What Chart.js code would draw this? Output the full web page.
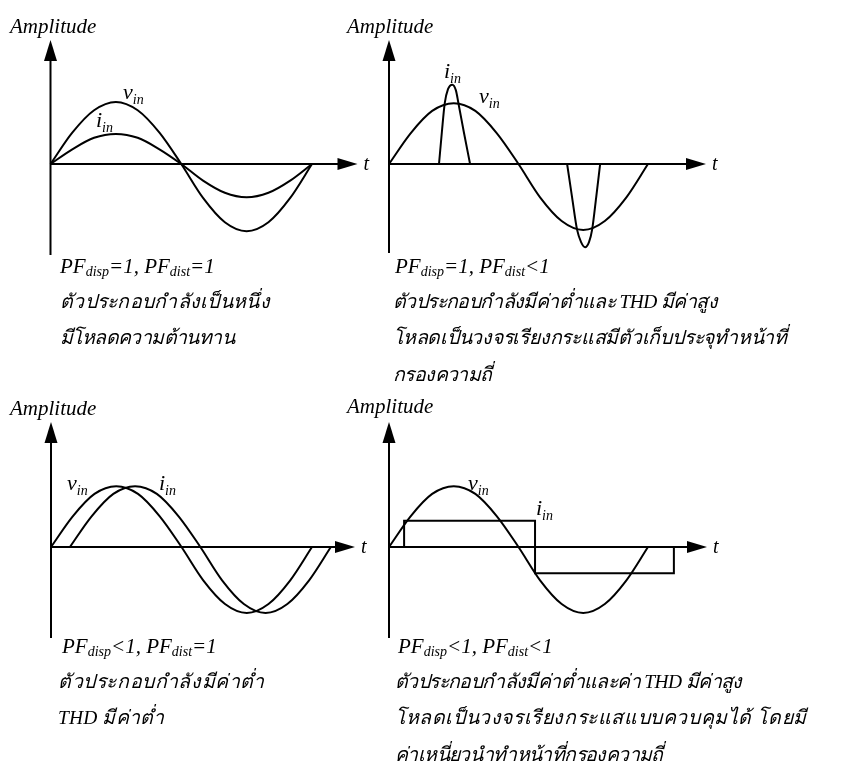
<!DOCTYPE html>
<html>
<head>
<meta charset="utf-8">
<script src="https://cdn.jsdelivr.net/npm/chart.js@4.4.1/dist/chart.umd.min.js"></script>
<style>
  html, body { margin: 0; padding: 0; background: #fff; }
  #page { position: relative; width: 842px; height: 772px; overflow: hidden; }
  #page canvas { position: absolute; }
  .cap { position: absolute; font-family: "Liberation Serif", "Times New Roman", serif; font-style: italic;
         color: #000; white-space: nowrap; line-height: 1; }
  .pf { font-size: 21px; }
  .pf sub { font-size: 14px; vertical-align: -3px; }
  .th { font-size: 19.5px; }
</style>
</head>
<body>
<div id="page">
  <canvas id="p1"></canvas>
  <canvas id="p2"></canvas>
  <canvas id="p3"></canvas>
  <canvas id="p4"></canvas>

  <!-- คำอธิบายใต้กราฟ (data-w = ความกว้างบรรทัดโดยประมาณ) -->
  <div class="cap pf" style="left:60px; top:256px;">PF<sub>disp</sub>=1, PF<sub>dist</sub>=1</div>
  <div class="cap th" data-w="210" style="left:60px; top:292px;">ตัวประกอบกำลังเป็นหนึ่ง</div>
  <div class="cap th" data-w="162" style="left:60px; top:328px;">มีโหลดความต้านทาน</div>

  <div class="cap pf" style="left:395px; top:256px;">PF<sub>disp</sub>=1, PF<sub>dist</sub>&lt;1</div>
  <div class="cap th" data-w="300" style="left:393px; top:292px;">ตัวประกอบกำลังมีค่าต่ำและ THD มีค่าสูง</div>
  <div class="cap th" data-w="394" style="left:393px; top:328px;">โหลดเป็นวงจรเรียงกระแสมีตัวเก็บประจุทำหน้าที่</div>
  <div class="cap th" data-w="82" style="left:393px; top:365px;">กรองความถี่</div>

  <div class="cap pf" style="left:62px; top:636px;">PF<sub>disp</sub>&lt;1, PF<sub>dist</sub>=1</div>
  <div class="cap th" data-w="207" style="left:58px; top:672px;">ตัวประกอบกำลังมีค่าต่ำ</div>
  <div class="cap th" data-w="106" style="left:58px; top:708px;">THD มีค่าต่ำ</div>

  <div class="cap pf" style="left:398px; top:636px;">PF<sub>disp</sub>&lt;1, PF<sub>dist</sub>&lt;1</div>
  <div class="cap th" data-w="320" style="left:395px; top:672px;">ตัวประกอบกำลังมีค่าต่ำและค่า THD มีค่าสูง</div>
  <div class="cap th" data-w="413" style="left:395px; top:708px;">โหลดเป็นวงจรเรียงกระแสแบบควบคุมได้ โดยมี</div>
  <div class="cap th" data-w="257" style="left:395px; top:745px;">ค่าเหนี่ยวนำทำหน้าที่กรองความถี่</div>
</div>

<script>
// ---- ข้อมูล (องศา, แอมพลิจูด) ----
const sineDeg = [0, 30, 60, 90, 120, 150, 180, 210, 240, 270, 300, 330, 360];

// กราฟ 1: โหลดความต้านทาน
const p1Vin = [0, 0.49, 0.84, 0.97, 0.84, 0.49, 0, -0.53, -0.91, -1.05, -0.91, -0.53, 0];
const p1Iin = [0, 0.23, 0.41, 0.47, 0.41, 0.23, 0, -0.26, -0.45, -0.52, -0.45, -0.26, 0];

// กราฟ 2: วงจรเรียงกระแสตัวเก็บประจุ (กระแสเป็นพัลส์)
const p2Vin = [0, 0.48, 0.83, 0.95, 0.83, 0.48, 0, -0.52, -0.89, -1.03, -0.89, -0.52, 0];
const p2PosDeg = [69.5, 73.5, 77.5, 82, 88, 93, 96.5, 104, 112.7];
const p2PosIin = [0, 0.5, 0.95, 1.17, 1.24, 1.15, 0.95, 0.5, 0];
const p2NegDeg = [247.6, 254.5, 261.5, 267, 272.6, 278, 282.3, 288, 293.5];
const p2NegIin = [0, -0.52, -1.03, -1.22, -1.3, -1.22, -1.03, -0.52, 0];

// กราฟ 3: กระแสล้าหลังแรงดัน
const p3Vin = [0, 0.48, 0.83, 0.95, 0.83, 0.48, 0, -0.52, -0.89, -1.03, -0.89, -0.52, 0];
const p3IinDeg = [26, 56, 86, 116, 146, 176, 206, 236, 266, 296, 326, 356, 386];
const p3Iin = [0, 0.48, 0.83, 0.95, 0.83, 0.48, 0, -0.52, -0.89, -1.03, -0.89, -0.52, 0];

// กราฟ 4: วงจรเรียงกระแสควบคุมได้ (กระแสสี่เหลี่ยม)
const p4Vin = [0, 0.48, 0.83, 0.95, 0.83, 0.48, 0, -0.52, -0.89, -1.03, -0.89, -0.52, 0];
const p4IinDeg = [0, 21, 21, 203, 203, 396, 396];
const p4Iin = [0, 0, 0.41, 0.41, -0.41, -0.41, 0];

const zip = (xs, ys) => xs.map((x, i) => ({ x: x, y: ys[i] }));

// ---- แกน ลูกศร และป้ายชื่อ ----
function drawSub(ctx, base, sub, x, y) {
    ctx.font = 'italic 22px "Liberation Serif"';
    ctx.fillText(base, x, y);
    const w = ctx.measureText(base).width;
    ctx.font = 'italic 14px "Liberation Serif"';
    ctx.fillText(sub, x + w, y + 5);
}

const axesPlugin = {
    id: 'axesArrows',
    afterDatasetsDraw(chart, args, o) {
        const ctx = chart.ctx;
        const ox = chart.scales.x.getPixelForValue(0);
        const oy = chart.scales.y.getPixelForValue(0);
        ctx.save();
        ctx.strokeStyle = '#000';
        ctx.fillStyle = '#000';
        ctx.lineWidth = 2;

        // แกนตั้ง
        ctx.beginPath();
        ctx.moveTo(ox, oy + o.down);
        ctx.lineTo(ox, oy - o.up + 18);
        ctx.stroke();
        ctx.beginPath();
        ctx.moveTo(ox, oy - o.up);
        ctx.lineTo(ox - 6.5, oy - o.up + 21);
        ctx.lineTo(ox + 6.5, oy - o.up + 21);
        ctx.closePath();
        ctx.fill();

        // แกนนอน
        ctx.beginPath();
        ctx.moveTo(ox, oy);
        ctx.lineTo(ox + o.right - 16, oy);
        ctx.stroke();
        ctx.beginPath();
        ctx.moveTo(ox + o.right, oy);
        ctx.lineTo(ox + o.right - 20, oy - 6);
        ctx.lineTo(ox + o.right - 20, oy + 6);
        ctx.closePath();
        ctx.fill();

        ctx.textBaseline = 'alphabetic';
        ctx.font = 'italic 21px "Liberation Serif"';
        ctx.fillText('Amplitude', o.amp[0], o.amp[1]);
        ctx.font = 'italic 20px "Liberation Serif"';
        ctx.fillText('t', ox + o.right + 6, oy + 6);

        o.labels.forEach(l => drawSub(ctx, l.base, 'in', l.x, l.y));
        ctx.restore();
    }
};

function line(data, stepped) {
    return {
        data: data,
        borderColor: '#000',
        borderWidth: 2,
        pointRadius: 0,
        fill: false,
        cubicInterpolationMode: stepped ? 'default' : 'monotone',
        tension: stepped ? 0 : 0.4
    };
}

// สร้างกราฟหนึ่งช่อง: กำหนดตำแหน่งจุดกำเนิดและอัตราส่วนพิกเซลต่อหน่วย
function panel(id, box, datasets, axes) {
    const cv = document.getElementById(id);
    cv.style.left = box.left + 'px';
    cv.style.top = box.top + 'px';
    cv.width = box.w;
    cv.height = box.h;
    new Chart(cv, {
        type: 'line',
        data: { datasets: datasets },
        options: {
            responsive: false,
            animation: false,
            events: [],
            layout: { padding: 0 },
            plugins: { legend: { display: false }, tooltip: { enabled: false }, axesArrows: axes },
            scales: {
                x: { type: 'linear', display: false,
                     min: -box.ox / box.pxDeg, max: (box.w - box.ox) / box.pxDeg },
                y: { type: 'linear', display: false,
                     min: -(box.h - box.oy) / box.pxUnit, max: box.oy / box.pxUnit }
            }
        },
        plugins: [axesPlugin]
    });
}

panel('p1', { left: 0, top: 0, w: 390, h: 262, ox: 50.5, oy: 164, pxDeg: 0.7264, pxUnit: 64 },
    [line(zip(sineDeg, p1Vin)), line(zip(sineDeg, p1Iin))],
    { up: 124, down: 91, right: 307, amp: [10, 33],
      labels: [{ base: 'v', x: 123, y: 99 }, { base: 'i', x: 96, y: 127 }] });

panel('p2', { left: 340, top: 0, w: 502, h: 262, ox: 49, oy: 164, pxDeg: 0.7194, pxUnit: 64 },
    [line(zip(sineDeg, p2Vin)), line(zip(p2PosDeg, p2PosIin)), line(zip(p2NegDeg, p2NegIin))],
    { up: 124, down: 89, right: 317, amp: [7, 33],
      labels: [{ base: 'i', x: 104, y: 78 }, { base: 'v', x: 139, y: 103 }] });

panel('p3', { left: 0, top: 380, w: 390, h: 262, ox: 51, oy: 167, pxDeg: 0.725, pxUnit: 64 },
    [line(zip(sineDeg, p3Vin)), line(zip(p3IinDeg, p3Iin))],
    { up: 125, down: 91, right: 304, amp: [10, 35],
      labels: [{ base: 'v', x: 67, y: 110 }, { base: 'i', x: 159, y: 110 }] });

panel('p4', { left: 340, top: 380, w: 502, h: 262, ox: 49, oy: 167, pxDeg: 0.7194, pxUnit: 64 },
    [line(zip(sineDeg, p4Vin)), line(zip(p4IinDeg, p4Iin), true)],
    { up: 125, down: 91, right: 318, amp: [7, 33],
      labels: [{ base: 'v', x: 128, y: 110 }, { base: 'i', x: 196, y: 135 }] });

// ปรับระยะห่างตัวอักษรเล็กน้อยให้บรรทัดภาษาไทยใกล้ความกว้างที่ต้องการ (จำกัดไม่ให้ชิดกันเกินไป)
document.querySelectorAll('.th[data-w]').forEach(el => {
    const target = +el.dataset.w;
    el.style.letterSpacing = '0px';
    const w0 = el.getBoundingClientRect().width;
    el.style.letterSpacing = '1px';
    const n = el.getBoundingClientRect().width - w0;
    let s = n > 0 ? (target - w0) / n : 0;
    s = Math.max(-0.6, Math.min(0.6, s));
    el.style.letterSpacing = s.toFixed(2) + 'px';
});
</script>
</body>
</html>
